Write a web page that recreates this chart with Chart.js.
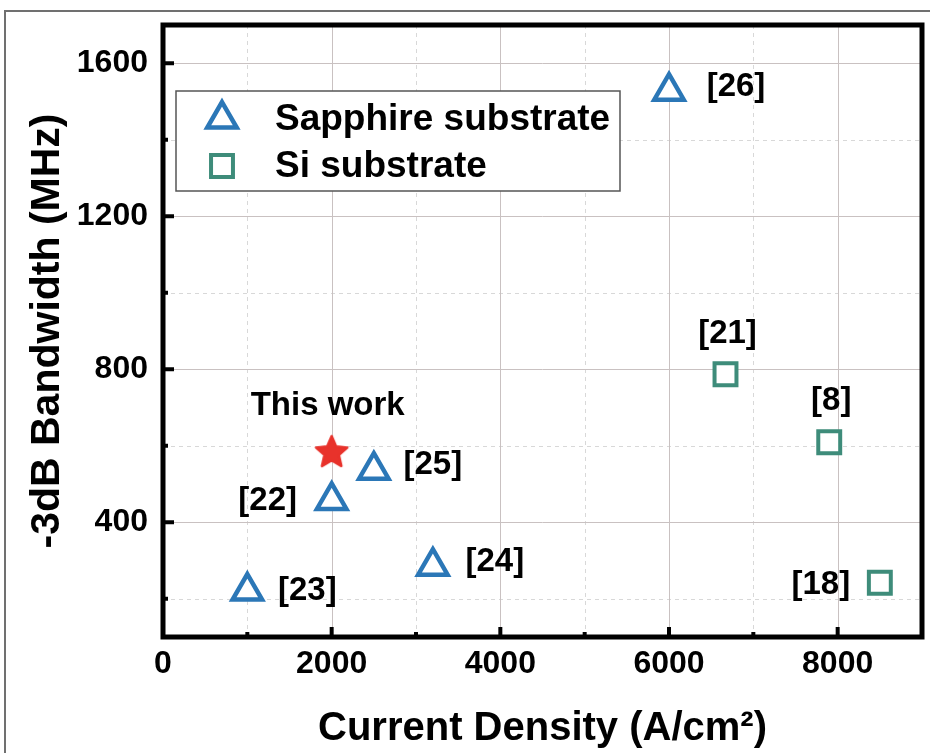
<!DOCTYPE html>
<html>
<head>
<meta charset="utf-8">
<script src="https://cdn.jsdelivr.net/npm/chart.js@4.4.0/dist/chart.umd.min.js"></script>
<style>
  html, body { margin: 0; padding: 0; background: #fff; }
  #wrap { width: 930px; height: 753px; }
</style>
</head>
<body>
<div id="wrap"><canvas id="scatter" width="930" height="753"></canvas></div>
<script>
// values
const sapphireX = [1000, 2000, 2500, 3200, 6000]
const sapphireY = [220, 457, 536, 285, 1527]
const sapphireRefs = ['[23]', '[22]', '[25]', '[24]', '[26]']

const siX = [6670, 7900, 8500]
const siY = [787, 609, 242]
const siRefs = ['[21]', '[8]', '[18]']

const thisWorkX = [2000]
const thisWorkY = [582]
const thisWorkRefs = ['This work']

const xTicks = [0, 2000, 4000, 6000, 8000]
const xMinor = [1000, 3000, 5000, 7000]
const yTicks = [400, 800, 1200, 1600]
const yMinor = [200, 600, 1000, 1400]

// label placement relative to each marker (px)
const sapphireLabelOffsets = [[60, 0], [-64, 0], [59, -5], [62, -4], [67, -4]]
const siLabelOffsets = [[2, -40], [2, -41], [-59, 2]]
const thisWorkLabelOffsets = [[-4, -47]]

const FONT = "'Liberation Sans', Arial, Helvetica, sans-serif"
const BLUE = '#2b77b7'
const TEAL = '#3e8c7a'
const RED = '#e8322b'

function makeStar(size, color) {
  const c = document.createElement('canvas')
  c.width = size
  c.height = size
  const g = c.getContext('2d')
  const cx = size / 2, cy = size / 2, R = size / 2 - 2, r = R * 0.46
  g.beginPath()
  for (let i = 0; i < 10; i++) {
    const rad = i % 2 ? r : R
    const a = -Math.PI / 2 + i * Math.PI / 5
    g.lineTo(cx + rad * Math.cos(a), cy + rad * Math.sin(a))
  }
  g.closePath()
  g.fillStyle = color
  g.strokeStyle = color
  g.lineJoin = 'round'
  g.lineWidth = 2.5
  g.fill()
  g.stroke()
  return c
}

const zip = (xs, ys) => xs.map((v, i) => ({ x: v, y: ys[i] }))

// keep the plot box where the figure has it
const noPad = s => { s.paddingTop = 0; s.paddingBottom = 0; s.paddingLeft = 0; s.paddingRight = 0 }

const decor = {
  id: 'decor',
  beforeDraw(chart) {
    const ctx = chart.ctx
    ctx.save()
    ctx.fillStyle = '#fff'
    ctx.fillRect(0, 0, chart.width, chart.height)
    ctx.strokeStyle = '#707070'
    ctx.lineWidth = 2
    ctx.beginPath()
    ctx.moveTo(5, chart.height)
    ctx.lineTo(5, 11)
    ctx.lineTo(chart.width, 11)
    ctx.stroke()
    ctx.restore()
  },
  beforeDatasetsDraw(chart) {
    const { ctx, chartArea: a, scales: { x, y } } = chart
    ctx.save()
    ctx.lineWidth = 1
    const vline = (v, dash, color) => {
      const px = Math.round(x.getPixelForValue(v)) + 0.5
      ctx.setLineDash(dash)
      ctx.strokeStyle = color
      ctx.beginPath(); ctx.moveTo(px, a.top); ctx.lineTo(px, a.bottom); ctx.stroke()
    }
    const hline = (v, dash, color) => {
      const py = Math.round(y.getPixelForValue(v)) + 0.5
      ctx.setLineDash(dash)
      ctx.strokeStyle = color
      ctx.beginPath(); ctx.moveTo(a.left, py); ctx.lineTo(a.right, py); ctx.stroke()
    }
    xMinor.forEach(v => vline(v, [4, 4], '#d8d8d8'))
    yMinor.forEach(v => hline(v, [4, 4], '#d8d8d8'))
    xTicks.forEach(v => vline(v, [], '#c9c1c1'))
    yTicks.forEach(v => hline(v, [], '#c9c1c1'))
    ctx.restore()
  },
  afterDatasetsDraw(chart) {
    const { ctx, chartArea: a, scales: { x, y } } = chart
    ctx.save()
    // plot frame
    ctx.strokeStyle = '#000'
    ctx.lineWidth = 5
    ctx.strokeRect(a.left, a.top, a.right - a.left, a.bottom - a.top)
    // inward tick marks
    ctx.lineWidth = 4
    const tickX = (v, len) => {
      const px = x.getPixelForValue(v)
      ctx.beginPath(); ctx.moveTo(px, a.bottom); ctx.lineTo(px, a.bottom - len); ctx.stroke()
    }
    const tickY = (v, len) => {
      const py = y.getPixelForValue(v)
      ctx.beginPath(); ctx.moveTo(a.left, py); ctx.lineTo(a.left + len, py); ctx.stroke()
    }
    xTicks.forEach(v => tickX(v, 10))
    xMinor.forEach(v => tickX(v, 5))
    yTicks.forEach(v => tickY(v, 11))
    yMinor.forEach(v => tickY(v, 5))

    // point labels
    ctx.fillStyle = '#000'
    ctx.font = 'bold 33px ' + FONT
    ctx.textAlign = 'center'
    ctx.textBaseline = 'middle'
    const labelSets = [
      [sapphireRefs, sapphireLabelOffsets],
      [siRefs, siLabelOffsets],
      [thisWorkRefs, thisWorkLabelOffsets]
    ]
    labelSets.forEach(([texts, offs], di) => {
      chart.getDatasetMeta(di).data.forEach((pt, i) => {
        ctx.fillText(texts[i], pt.x + offs[i][0], pt.y + offs[i][1])
      })
    })

    // legend (only the two substrate series)
    const bx = a.left + 13, by = a.top + 66
    ctx.fillStyle = '#fff'
    ctx.fillRect(bx, by, 444, 100)
    ctx.strokeStyle = '#555'
    ctx.lineWidth = 1.5
    ctx.strokeRect(bx, by, 444, 100)
    const rows = [0, 1]
    rows.forEach(di => {
      const ds = chart.data.datasets[di]
      const cy = by + (di === 0 ? 28 : 75)
      ctx.strokeStyle = ds.borderColor
      ctx.fillStyle = '#fff'
      ctx.lineWidth = ds.pointBorderWidth
      Chart.helpers.drawPoint(ctx, {
        pointStyle: ds.pointStyle, radius: ds.pointRadius,
        borderWidth: ds.pointBorderWidth, rotation: 0
      }, bx + 46, cy)
      ctx.fillStyle = '#000'
      ctx.font = 'bold 37px ' + FONT
      ctx.textAlign = 'left'
      ctx.textBaseline = 'alphabetic'
      ctx.fillText(ds.label, bx + 99, cy + 11)
    })
    ctx.restore()
  }
}

new Chart(document.getElementById('scatter'), {
  type: 'scatter',
  data: {
    datasets: [
      {
        label: 'Sapphire substrate',
        data: zip(sapphireX, sapphireY),
        pointStyle: 'triangle',
        pointRadius: 17,
        pointBorderWidth: 4.5,
        borderColor: BLUE,
        backgroundColor: '#fff'
      },
      {
        label: 'Si substrate',
        data: zip(siX, siY),
        pointStyle: 'rect',
        pointRadius: 15.5,
        pointBorderWidth: 4,
        borderColor: TEAL,
        backgroundColor: '#fff'
      },
      {
        label: 'This work',
        data: zip(thisWorkX, thisWorkY),
        pointStyle: makeStar(37, RED),
        pointRadius: 17,
        borderColor: RED,
        backgroundColor: RED
      }
    ]
  },
  options: {
    responsive: false,
    animation: false,
    events: [],
    layout: { autoPadding: false, padding: { top: 25, right: 8, left: 0, bottom: 0 } },
    plugins: {
      legend: { display: false },
      tooltip: { enabled: false }
    },
    scales: {
      x: {
        type: 'linear',
        min: 0,
        max: 9000,
        afterBuildTicks: s => { s.ticks = xTicks.map(v => ({ value: v })) },
        afterFit: s => { s.height = 116; noPad(s) },
        grid: { display: false },
        border: { display: false },
        ticks: {
          padding: 0,
          color: '#000',
          font: { family: FONT, size: 32, weight: 'bold' },
          callback: v => String(v)
        },
        title: {
          display: true,
          text: 'Current Density (A/cm²)',
          color: '#000',
          font: { family: FONT, size: 40, weight: 'bold' },
          padding: { top: 0, bottom: 0 }
        }
      },
      y: {
        type: 'linear',
        min: 100,
        max: 1700,
        afterBuildTicks: s => { s.ticks = yTicks.map(v => ({ value: v })) },
        afterFit: s => { s.width = 163; noPad(s) },
        grid: { display: false, drawTicks: false },
        border: { display: false },
        ticks: {
          padding: 15,
          color: '#000',
          font: { family: FONT, size: 32, weight: 'bold' },
          callback: v => String(v)
        },
        title: {
          display: true,
          text: '-3dB Bandwidth (MHz)',
          color: '#000',
          font: { family: FONT, size: 41, weight: 'bold' },
          padding: { top: 23, bottom: 0 }
        }
      }
    }
  },
  plugins: [decor]
})
</script>
</body>
</html>
